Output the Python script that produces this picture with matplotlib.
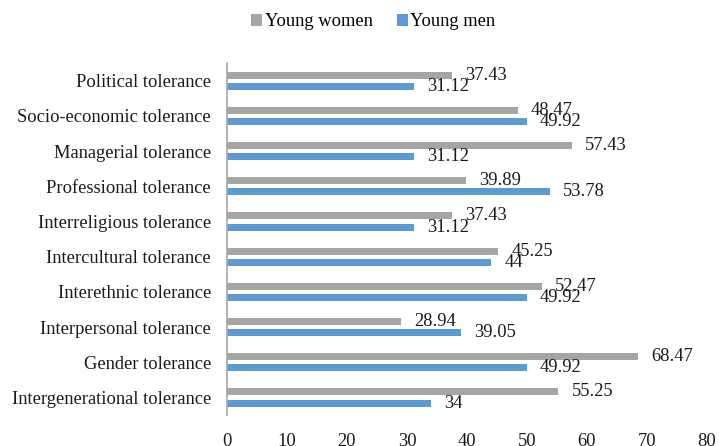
import matplotlib
matplotlib.use("Agg")
import matplotlib.pyplot as plt
import numpy as np

plt.rcParams['font.family'] = ['Liberation Serif', 'DejaVu Serif']

categories = [
    "Political tolerance",
    "Socio-economic tolerance",
    "Managerial tolerance",
    "Professional tolerance",
    "Interreligious tolerance",
    "Intercultural tolerance",
    "Interethnic tolerance",
    "Interpersonal tolerance",
    "Gender tolerance",
    "Intergenerational tolerance",
]
young_women = [37.43, 48.47, 57.43, 39.89, 37.43, 45.25, 52.47, 28.94, 68.47, 55.25]
young_men = [31.12, 49.92, 31.12, 53.78, 31.12, 44, 49.92, 39.05, 49.92, 34]
x_ticks = [0, 10, 20, 30, 40, 50, 60, 70, 80]

GRAY = "#A5A5A5"
BLUE = "#5B9BD5"
TEXT = "#1a1a1a"
FS = 13.3

fig = plt.figure(figsize=(7.19, 4.46), dpi=100)
ax = fig.add_axes([0.3157, 0.0695, 0.6676, 0.789])

y = np.arange(len(categories))
off, h = 0.16, 0.2
bw = ax.barh(y - off, young_women, height=h, color=GRAY, label="Young women")
bm = ax.barh(y + off, young_men, height=h, color=BLUE, label="Young men")

def fmt(v):
    return f"{v:g}"

for yi, v in zip(y - off, young_women):
    ax.annotate(fmt(v), (v, yi), xytext=(9.5, 0), textcoords="offset points",
                ha="left", va="center", fontsize=FS, color=TEXT)
for yi, v in zip(y + off, young_men):
    ax.annotate(fmt(v), (v, yi), xytext=(9.5, 0), textcoords="offset points",
                ha="left", va="center", fontsize=FS, color=TEXT)

ax.set_ylim(len(categories) - 0.5, -0.5)
ax.set_xlim(0, 80)
ax.set_yticks(y)
ax.set_yticklabels(categories, fontsize=FS, color=TEXT)
ax.set_xticks(x_ticks)
ax.set_xticklabels([str(t) for t in x_ticks], fontsize=FS, color=TEXT)
ax.tick_params(axis="y", length=0, pad=11.5)
ax.tick_params(axis="x", length=0, pad=13)

for side in ["top", "right", "bottom"]:
    ax.spines[side].set_visible(False)
ax.spines["left"].set_color("#A6A6A6")
ax.spines["left"].set_linewidth(1.2)

fig.legend(handles=[bw, bm], loc="center", bbox_to_anchor=(0.519, 0.951),
           ncol=2, frameon=False, fontsize=FS, handlelength=0.6, handleheight=0.6,
           handletextpad=0.15, columnspacing=1.3)

fig.savefig("out.png", dpi=100)
